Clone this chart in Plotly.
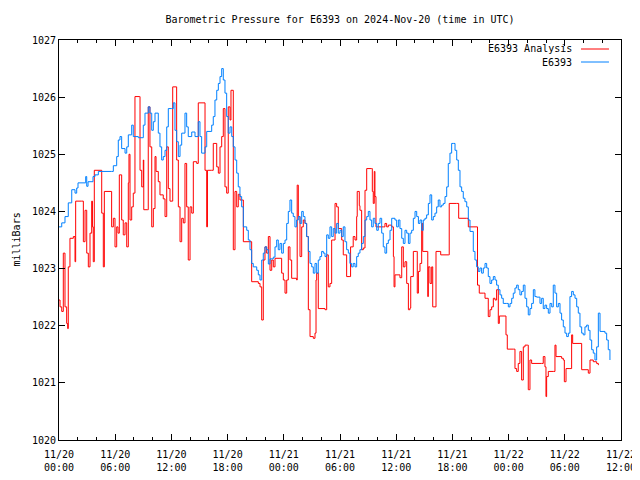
import plotly.graph_objects as go
import pandas as pd

# ---- data (hours since 2024-11-20 00:00 UTC, pressure in mb) ----
analysis_hours = [0.00, 0.11, 0.29, 0.46, 0.64, 0.82, 0.93, 0.99, 1.17, 1.53, 1.71, 1.78, 2.42, 2.60, 2.78, 2.96, 3.13, 3.31, 3.49, 3.57, 3.66, 3.77, 4.38, 4.56, 4.73, 4.84, 5.55, 5.62, 5.80, 5.98, 6.16, 6.30, 6.44, 6.69, 6.86, 7.05, 7.23, 7.40, 7.47, 7.58, 7.76, 7.93, 8.11, 8.57, 8.65, 8.83, 9.00, 9.05, 9.47, 9.53, 9.71, 9.90, 10.07, 10.25, 10.36, 10.60, 10.78, 11.13, 11.32, 11.50, 11.67, 11.85, 12.14, 12.56, 12.74, 12.92, 13.10, 13.27, 13.45, 13.63, 13.80, 13.99, 14.17, 14.34, 14.70, 14.87, 15.48, 15.59, 15.77, 15.85, 16.30, 16.47, 16.65, 16.84, 17.01, 17.19, 17.37, 17.54, 17.72, 17.90, 18.07, 18.26, 18.36, 18.61, 18.79, 18.97, 19.14, 19.32, 19.68, 20.39, 20.57, 21.28, 21.46, 21.64, 21.81, 21.99, 22.17, 22.35, 22.53, 22.71, 22.88, 23.06, 23.59, 23.77, 23.95, 24.13, 24.31, 24.48, 24.66, 24.84, 25.37, 25.43, 25.55, 25.73, 25.91, 26.08, 26.26, 26.44, 26.62, 26.80, 27.15, 27.33, 27.44, 27.51, 27.68, 28.40, 28.58, 28.75, 28.93, 29.11, 29.47, 29.64, 29.82, 30.18, 30.35, 30.53, 30.71, 31.06, 31.13, 31.41, 31.60, 31.78, 31.84, 32.06, 32.13, 32.31, 32.49, 32.67, 32.85, 33.38, 33.45, 33.55, 33.66, 33.73, 33.84, 34.62, 34.80, 34.98, 35.16, 35.52, 35.70, 35.77, 35.87, 36.40, 36.59, 36.76, 36.94, 37.12, 37.30, 37.47, 37.55, 37.83, 38.19, 38.25, 38.37, 38.54, 38.72, 38.83, 39.32, 39.37, 39.43, 39.61, 39.79, 39.90, 40.14, 40.25, 40.67, 40.75, 41.56, 41.66, 42.46, 42.67, 43.53, 43.70, 44.66, 44.68, 44.87, 45.30, 45.48, 45.83, 46.01, 46.19, 46.37, 46.55, 46.72, 46.90, 47.01, 47.61, 47.72, 47.86, 48.50, 48.68, 48.86, 49.03, 49.21, 49.39, 49.57, 49.75, 50.02, 50.10, 50.28, 50.46, 51.53, 51.70, 51.88, 51.99, 52.06, 52.24, 52.77, 52.95, 53.06, 53.66, 53.84, 53.95, 54.13, 54.55, 54.73, 54.84, 55.62, 55.80, 56.51, 56.69, 57.04, 57.40, 57.58]
analysis_mb = [1022.45, 1022.33, 1022.25, 1023.27, 1022.33, 1022.04, 1021.95, 1023.03, 1023.53, 1023.56, 1023.12, 1024.18, 1024.18, 1023.47, 1024.02, 1023.27, 1023.03, 1023.62, 1024.18, 1023.73, 1023.12, 1024.72, 1024.72, 1023.97, 1023.03, 1024.35, 1024.35, 1023.73, 1023.88, 1023.38, 1023.73, 1023.62, 1024.64, 1023.85, 1023.59, 1023.80, 1023.38, 1024.50, 1025.00, 1023.85, 1024.08, 1024.32, 1026.01, 1026.01, 1024.72, 1024.43, 1024.90, 1024.03, 1024.03, 1025.83, 1025.13, 1023.73, 1024.05, 1024.96, 1024.70, 1024.52, 1024.29, 1024.22, 1023.91, 1025.13, 1024.40, 1024.18, 1026.18, 1024.90, 1024.08, 1023.47, 1023.88, 1023.80, 1024.84, 1024.08, 1023.15, 1024.08, 1023.97, 1024.87, 1024.84, 1025.90, 1025.90, 1024.72, 1023.73, 1024.72, 1024.72, 1025.19, 1025.19, 1024.78, 1024.67, 1025.13, 1025.31, 1025.80, 1024.43, 1024.32, 1025.83, 1025.60, 1026.12, 1023.33, 1024.35, 1024.08, 1024.30, 1024.20, 1023.47, 1023.47, 1022.77, 1022.74, 1022.68, 1022.10, 1023.15, 1023.38, 1023.27, 1023.56, 1022.97, 1023.15, 1023.03, 1023.18, 1023.18, 1022.92, 1022.80, 1022.57, 1022.80, 1023.38, 1023.15, 1022.83, 1022.80, 1024.46, 1023.91, 1023.21, 1023.73, 1023.85, 1023.79, 1023.56, 1022.28, 1021.81, 1021.78, 1021.87, 1022.80, 1022.92, 1022.30, 1022.28, 1023.24, 1022.68, 1022.74, 1023.50, 1024.14, 1024.08, 1023.70, 1023.50, 1023.24, 1023.24, 1022.86, 1022.86, 1023.38, 1023.56, 1023.50, 1023.91, 1024.35, 1024.10, 1024.02, 1023.33, 1023.36, 1024.37, 1024.75, 1024.75, 1024.35, 1024.14, 1024.70, 1024.26, 1023.73, 1023.73, 1023.79, 1023.73, 1023.76, 1023.73, 1023.21, 1022.68, 1022.89, 1022.84, 1023.38, 1023.03, 1023.12, 1022.74, 1022.28, 1022.31, 1022.86, 1023.30, 1023.30, 1022.57, 1022.95, 1023.09, 1023.79, 1023.30, 1023.30, 1022.51, 1023.03, 1022.74, 1023.03, 1022.33, 1022.33, 1023.30, 1023.30, 1023.24, 1023.24, 1024.14, 1024.14, 1023.88, 1023.88, 1023.73, 1023.73, 1022.71, 1022.57, 1022.57, 1022.48, 1022.16, 1022.28, 1022.33, 1022.48, 1022.45, 1022.63, 1022.04, 1022.17, 1022.17, 1021.84, 1021.59, 1021.59, 1021.25, 1021.20, 1021.34, 1021.55, 1021.05, 1021.63, 1021.66, 1021.66, 1020.88, 1021.40, 1021.34, 1021.34, 1021.46, 1021.28, 1020.76, 1021.11, 1021.20, 1021.20, 1021.66, 1021.46, 1021.43, 1021.40, 1021.02, 1021.25, 1021.25, 1021.84, 1021.69, 1021.69, 1021.23, 1021.17, 1021.40, 1021.37, 1021.34, 1021.31]

station_hours = [0.00, 0.29, 0.64, 0.99, 1.36, 1.71, 1.89, 2.03, 2.78, 2.85, 2.96, 3.10, 3.63, 3.84, 4.20, 5.63, 5.80, 6.16, 6.33, 6.51, 6.69, 7.05, 7.23, 7.40, 7.76, 7.93, 8.47, 9.00, 9.18, 9.53, 9.71, 9.90, 10.07, 10.25, 10.60, 10.78, 10.96, 11.13, 11.32, 11.50, 11.67, 12.03, 12.20, 12.38, 12.56, 12.74, 12.92, 13.10, 13.45, 13.63, 13.80, 14.17, 14.52, 14.87, 15.05, 15.23, 15.59, 15.77, 16.30, 16.47, 16.65, 16.84, 17.01, 17.19, 17.37, 17.54, 17.72, 17.90, 18.07, 18.26, 18.44, 18.61, 18.79, 18.97, 19.14, 19.32, 19.50, 19.68, 20.04, 20.21, 20.39, 20.57, 20.74, 21.11, 21.28, 21.46, 21.64, 21.81, 21.99, 22.17, 22.35, 22.53, 22.88, 23.06, 23.24, 23.41, 23.59, 23.77, 23.95, 24.13, 24.31, 24.48, 24.66, 24.84, 25.01, 25.19, 25.37, 25.55, 25.73, 25.91, 26.08, 26.26, 26.44, 26.62, 26.80, 26.98, 27.15, 27.33, 27.51, 27.68, 27.86, 28.04, 28.22, 28.40, 28.58, 28.75, 28.93, 29.11, 29.28, 29.47, 29.64, 29.82, 30.00, 30.18, 30.35, 30.53, 30.71, 30.89, 31.06, 31.24, 31.41, 31.60, 31.78, 31.95, 32.13, 32.31, 32.49, 32.67, 32.85, 33.02, 33.20, 33.38, 33.55, 33.73, 33.92, 34.09, 34.27, 34.45, 34.62, 34.80, 34.98, 35.16, 35.34, 35.52, 35.87, 36.05, 36.23, 36.40, 36.59, 36.76, 36.94, 37.12, 37.30, 37.47, 37.65, 37.83, 38.01, 38.19, 38.37, 38.54, 38.72, 38.89, 39.07, 39.25, 39.43, 39.61, 39.79, 39.96, 40.14, 40.32, 40.49, 40.67, 40.85, 41.03, 41.21, 41.39, 41.56, 41.74, 41.92, 42.10, 42.28, 42.46, 42.63, 42.81, 42.99, 43.16, 43.34, 43.53, 43.70, 43.88, 44.23, 44.41, 44.59, 44.76, 44.94, 45.12, 45.30, 45.48, 45.66, 45.83, 46.01, 46.19, 46.37, 46.55, 46.72, 46.90, 47.08, 47.26, 47.43, 47.80, 47.97, 48.15, 48.33, 48.50, 48.68, 48.86, 49.03, 49.21, 49.39, 49.57, 49.75, 49.93, 50.10, 50.28, 50.46, 50.64, 50.81, 50.99, 51.35, 51.53, 51.70, 51.88, 52.06, 52.24, 52.42, 52.60, 52.77, 52.95, 53.13, 53.31, 53.49, 53.66, 53.84, 54.02, 54.20, 54.38, 54.55, 54.73, 54.91, 55.09, 55.27, 55.44, 55.62, 55.80, 55.97, 56.15, 56.33, 56.51, 56.69, 56.87, 57.04, 57.22, 57.40, 57.58, 57.76, 58.29, 58.47, 58.64, 58.82]
station_mb = [1023.73, 1023.80, 1023.91, 1024.15, 1024.38, 1024.32, 1024.41, 1024.50, 1024.50, 1024.61, 1024.44, 1024.52, 1024.61, 1024.64, 1024.70, 1024.70, 1024.80, 1024.96, 1025.25, 1025.31, 1025.10, 1025.02, 1025.13, 1025.34, 1025.51, 1025.31, 1025.29, 1025.51, 1025.72, 1025.83, 1025.72, 1025.42, 1025.57, 1025.72, 1025.37, 1025.13, 1024.90, 1024.96, 1025.07, 1025.48, 1025.80, 1025.80, 1025.90, 1025.42, 1025.22, 1024.96, 1025.16, 1025.37, 1025.72, 1025.48, 1025.31, 1025.39, 1025.31, 1025.57, 1025.31, 1025.02, 1025.13, 1025.40, 1025.51, 1025.66, 1025.95, 1026.12, 1026.24, 1026.36, 1026.50, 1026.30, 1026.07, 1025.66, 1025.37, 1025.48, 1025.31, 1025.13, 1024.90, 1024.67, 1024.43, 1024.26, 1024.08, 1023.73, 1023.67, 1023.50, 1023.33, 1023.09, 1023.03, 1022.97, 1022.89, 1022.80, 1023.15, 1023.27, 1023.38, 1023.33, 1023.08, 1023.17, 1023.20, 1023.38, 1023.50, 1023.33, 1023.44, 1023.27, 1023.44, 1023.50, 1023.79, 1024.00, 1024.20, 1023.97, 1023.91, 1023.73, 1023.85, 1023.91, 1023.79, 1024.00, 1023.91, 1023.79, 1023.56, 1023.30, 1023.09, 1023.03, 1022.92, 1023.09, 1022.92, 1023.15, 1023.21, 1023.30, 1023.27, 1023.21, 1023.59, 1023.53, 1023.73, 1023.56, 1023.70, 1023.62, 1023.79, 1023.62, 1023.67, 1023.56, 1023.73, 1023.47, 1023.33, 1023.27, 1023.09, 1023.03, 1023.09, 1023.03, 1023.21, 1023.27, 1023.33, 1023.44, 1023.56, 1023.85, 1023.91, 1024.00, 1023.85, 1023.73, 1023.88, 1023.79, 1023.67, 1023.79, 1023.88, 1023.62, 1023.38, 1023.27, 1023.44, 1023.50, 1023.67, 1023.88, 1023.85, 1023.73, 1023.85, 1023.70, 1023.53, 1023.44, 1023.67, 1023.62, 1023.44, 1023.62, 1023.67, 1023.88, 1024.00, 1023.91, 1023.79, 1023.85, 1023.67, 1023.85, 1023.88, 1023.94, 1024.14, 1024.29, 1023.85, 1023.91, 1023.97, 1024.08, 1024.20, 1024.08, 1024.11, 1024.14, 1024.26, 1024.43, 1024.84, 1025.02, 1025.19, 1025.19, 1025.07, 1024.90, 1024.72, 1024.43, 1024.35, 1024.23, 1024.17, 1024.08, 1023.85, 1023.65, 1023.30, 1023.15, 1023.03, 1022.95, 1023.01, 1022.92, 1023.01, 1023.09, 1023.01, 1022.86, 1022.74, 1022.80, 1022.86, 1022.80, 1022.71, 1022.63, 1022.54, 1022.48, 1022.39, 1022.39, 1022.33, 1022.39, 1022.48, 1022.57, 1022.66, 1022.71, 1022.63, 1022.54, 1022.60, 1022.71, 1022.48, 1022.33, 1022.19, 1022.30, 1022.39, 1022.63, 1022.51, 1022.50, 1022.39, 1022.48, 1022.30, 1022.36, 1022.30, 1022.22, 1022.39, 1022.33, 1022.71, 1022.57, 1022.33, 1022.39, 1022.22, 1022.10, 1021.98, 1021.87, 1021.81, 1021.87, 1022.51, 1022.60, 1022.54, 1022.48, 1022.33, 1022.22, 1021.98, 1021.87, 1021.84, 1021.98, 1022.01, 1021.92, 1021.75, 1021.58, 1021.52, 1021.40, 1021.63, 1022.22, 1021.90, 1021.87, 1021.75, 1021.58, 1021.40]

start_time = "2024-11-20 00:00"
end_time = "2024-11-22 12:00"
y_range = [1020, 1027]
title_text = "Barometric Pressure for E6393 on 2024-Nov-20 (time in UTC)"
y_title = "milliBars"
series_names = ["E6393 Analysis", "E6393"]
series_colors = ["#ff0000", "#0080ff"]

base = pd.Timestamp(start_time)
t_analysis = base + pd.to_timedelta(analysis_hours, unit="h")
t_station = base + pd.to_timedelta(station_hours, unit="h")

FONT = "DejaVu Sans Mono"
W, H = 632, 472  # page body has an 8px margin

fig = go.Figure()
fig.add_trace(go.Scatter(x=t_analysis, y=analysis_mb, mode="lines", name=series_names[0],
                         line=dict(color=series_colors[0], width=1, shape="hv")))
fig.add_trace(go.Scatter(x=t_station, y=station_mb, mode="lines", name=series_names[1],
                         line=dict(color=series_colors[1], width=1, shape="hv")))

fig.update_layout(
    width=W, height=H,
    margin=dict(l=51, r=19, t=32, b=40),
    paper_bgcolor="white", plot_bgcolor="white",
    showlegend=False,
    font=dict(family=FONT, size=10, color="black"),
    title=dict(text=title_text, xref="paper", x=0.5, xanchor="center",
               y=1 - 11 / H, yanchor="middle", font=dict(family=FONT, size=10)),
)

fig.update_xaxes(
    type="date", range=[start_time, end_time], automargin=False,
    tick0=start_time, dtick=6 * 3600 * 1000, tickformat="%m/%d<br>%H:%M",
    ticks="inside", ticklen=6, tickcolor="black", tickwidth=1, ticklabelstandoff=5,
    showline=True, linecolor="black", linewidth=1, mirror="ticks",
    showgrid=False, zeroline=False,
    minor=dict(dtick=2 * 3600 * 1000, ticks="inside", ticklen=3, tickcolor="black", showgrid=False),
    tickfont=dict(family=FONT, size=10),
)
fig.update_yaxes(
    range=y_range, dtick=1, tick0=1020, automargin=False,
    ticks="inside", ticklen=6, tickcolor="black", tickwidth=1,
    showline=True, linecolor="black", linewidth=1, mirror="ticks",
    showgrid=False, zeroline=False,
    tickfont=dict(family=FONT, size=10),
)

# y-axis title placed like gnuplot's ylabel (kept fully inside the figure)
fig.add_annotation(xref="paper", yref="paper", x=(9 - 59) / 562, y=0.5, xanchor="left", yanchor="middle",
                   borderpad=0, text=y_title, textangle=-90, showarrow=False,
                   font=dict(family=FONT, size=10, color="black"))

# gnuplot-style key: text right-aligned, line sample to the right
key_rows = [(0.9775, 0), (0.945, 1)]
for yy, i in key_rows:
    fig.add_annotation(xref="paper", yref="paper", x=0.9164, y=yy, xanchor="right", yanchor="middle",
                       text=series_names[i], showarrow=False, font=dict(family=FONT, size=10, color="black"))
    fig.add_shape(type="line", xref="paper", yref="paper", x0=0.9288, x1=0.9786, y0=yy, y1=yy,
                  line=dict(color=series_colors[i], width=1))

fig.write_html("out.html")
